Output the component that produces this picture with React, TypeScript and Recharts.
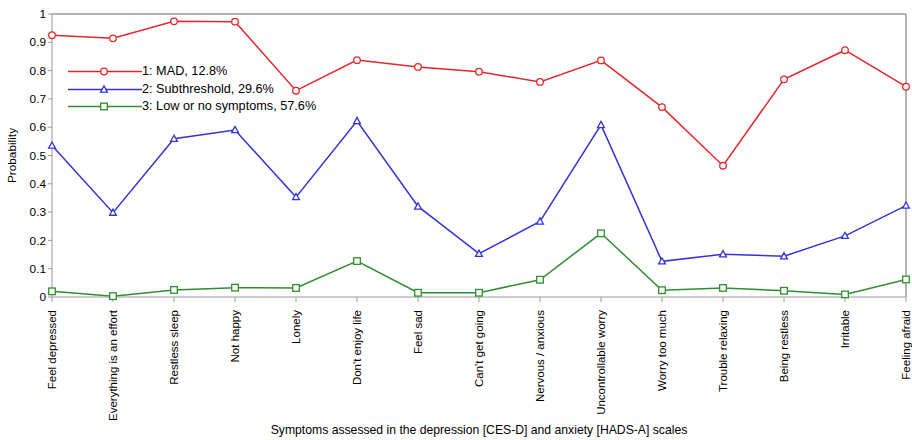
import React from "react";
import {
  Legend,
  Line,
  LineChart,
  ReferenceLine,
  XAxis,
  YAxis
} from "recharts";

const SYMPTOMS = [
  "Feel depressed",
  "Everything is an effort",
  "Restless sleep",
  "Not happy",
  "Lonely",
  "Don't enjoy life",
  "Feel sad",
  "Can't get going",
  "Nervous / anxious",
  "Uncontrollable worry",
  "Worry too much",
  "Trouble relaxing",
  "Being restless",
  "Irritable",
  "Feeling afraid"
];

const MAD = [0.925, 0.914, 0.974, 0.973, 0.729, 0.837, 0.813, 0.796, 0.76, 0.836, 0.671, 0.464, 0.769, 0.872, 0.743];
const SUBTHRESHOLD = [0.535, 0.298, 0.559, 0.59, 0.353, 0.622, 0.32, 0.153, 0.267, 0.608, 0.126, 0.151, 0.144, 0.216, 0.323];
const LOW = [0.02, 0.003, 0.025, 0.033, 0.032, 0.127, 0.015, 0.015, 0.061, 0.225, 0.024, 0.032, 0.022, 0.009, 0.062];

const Y_TICKS = [0, 0.1, 0.2, 0.3, 0.4, 0.5, 0.6, 0.7, 0.8, 0.9, 1];

const SERIES = [
  { key: "mad", name: "1: MAD, 12.8%", color: "#e3262b", shape: "circle" },
  { key: "sub", name: "2: Subthreshold, 29.6%", color: "#3434d6", shape: "triangle" },
  { key: "low", name: "3: Low or no symptoms, 57.6%", color: "#2f8f2f", shape: "square" }
];

const data = SYMPTOMS.map((name, i) => ({
  name,
  mad: MAD[i],
  sub: SUBTHRESHOLD[i],
  low: LOW[i]
}));

const FONT = "Arial, 'Liberation Sans', sans-serif";
const AXIS_GRAY = "#9a9a9a";

function Marker({ cx, cy, shape, color }: { cx: number; cy: number; shape: string; color: string }) {
  if (cx == null || cy == null) return null;
  if (shape === "circle") {
    return <circle cx={cx} cy={cy} r={3.3} fill="#fff" stroke={color} strokeWidth={1.3} />;
  }
  if (shape === "triangle") {
    return (
      <polygon
        points={`${cx},${cy - 3.6} ${cx - 3.4},${cy + 2.6} ${cx + 3.4},${cy + 2.6}`}
        fill="#fff"
        stroke={color}
        strokeWidth={1.3}
      />
    );
  }
  return <rect x={cx - 3.3} y={cy - 3.3} width={6.6} height={6.6} fill="#fff" stroke={color} strokeWidth={1.3} />;
}

function makeDot(shape: string, color: string) {
  return (props: any) => <Marker key={`${shape}-${props.index}`} cx={props.cx} cy={props.cy} shape={shape} color={color} />;
}

function XTick({ x, y, payload }: any) {
  return (
    <g transform={`translate(${x},${y + 6})`}>
      <text
        transform="rotate(-90)"
        textAnchor="end"
        dy="0.35em"
        fontSize={11.5}
        fontFamily={FONT}
        fill="#000"
      >
        {payload.value}
      </text>
    </g>
  );
}

function LegendBox() {
  return (
    <div style={{ fontFamily: FONT, fontSize: 12.7, color: "#000", lineHeight: "17.5px" }}>
      {SERIES.map((s) => (
        <div key={s.key} style={{ display: "flex", alignItems: "center", height: 17.5 }}>
          <svg width={74} height={17} style={{ display: "block" }}>
            <line x1={0} y1={8.5} x2={74} y2={8.5} stroke={s.color} strokeWidth={1.5} />
            <Marker cx={36} cy={8.5} shape={s.shape} color={s.color} />
          </svg>
          <span style={{ whiteSpace: "nowrap" }}>{s.name}</span>
        </div>
      ))}
    </div>
  );
}

export default function App() {
  return (
    <div style={{ position: "absolute", left: 0, top: 0, background: "#fff" }}>
      <LineChart width={912} height={440} data={data} margin={{ top: 14, right: 6, bottom: 6, left: 0 }}>
        <XAxis
          dataKey="name"
          interval={0}
          padding={{ left: 0, right: 0 }}
          stroke={AXIS_GRAY}
          tickSize={5}
          tick={<XTick />}
          height={137}
          label={{
            value: "Symptoms assessed in the depression [CES-D] and anxiety [HADS-A] scales",
            position: "insideBottom",
            offset: 0,
            style: { fontFamily: FONT, fontSize: 12.2, fill: "#000" }
          }}
        />
        <YAxis
          domain={[0, 1]}
          ticks={Y_TICKS}
          interval={0}
          width={52}
          stroke={AXIS_GRAY}
          tickSize={4}
          tickMargin={2}
          tick={{ fontSize: 11.8, fontFamily: FONT, fill: "#000" }}
          label={{
            value: "Probability",
            angle: -90,
            position: "insideLeft",
            offset: 12,
            style: { textAnchor: "middle", fontFamily: FONT, fontSize: 11.8, fill: "#000" }
          }}
        />
        <ReferenceLine y={1} stroke={AXIS_GRAY} strokeWidth={1.5} />
        <ReferenceLine x="Feeling afraid" stroke={AXIS_GRAY} strokeWidth={1.5} />
        <Legend
          layout="horizontal"
          verticalAlign="middle"
          align="center"
          content={<LegendBox />}
          wrapperStyle={{ position: "absolute", left: 68, top: 63, width: "auto", height: "auto" }}
        />
        {SERIES.map((s) => (
          <Line
            key={s.key}
            dataKey={s.key}
            name={s.name}
            stroke={s.color}
            strokeWidth={1.5}
            type="linear"
            dot={makeDot(s.shape, s.color)}
            activeDot={false}
            isAnimationActive={false}
          />
        ))}
      </LineChart>
    </div>
  );
}
